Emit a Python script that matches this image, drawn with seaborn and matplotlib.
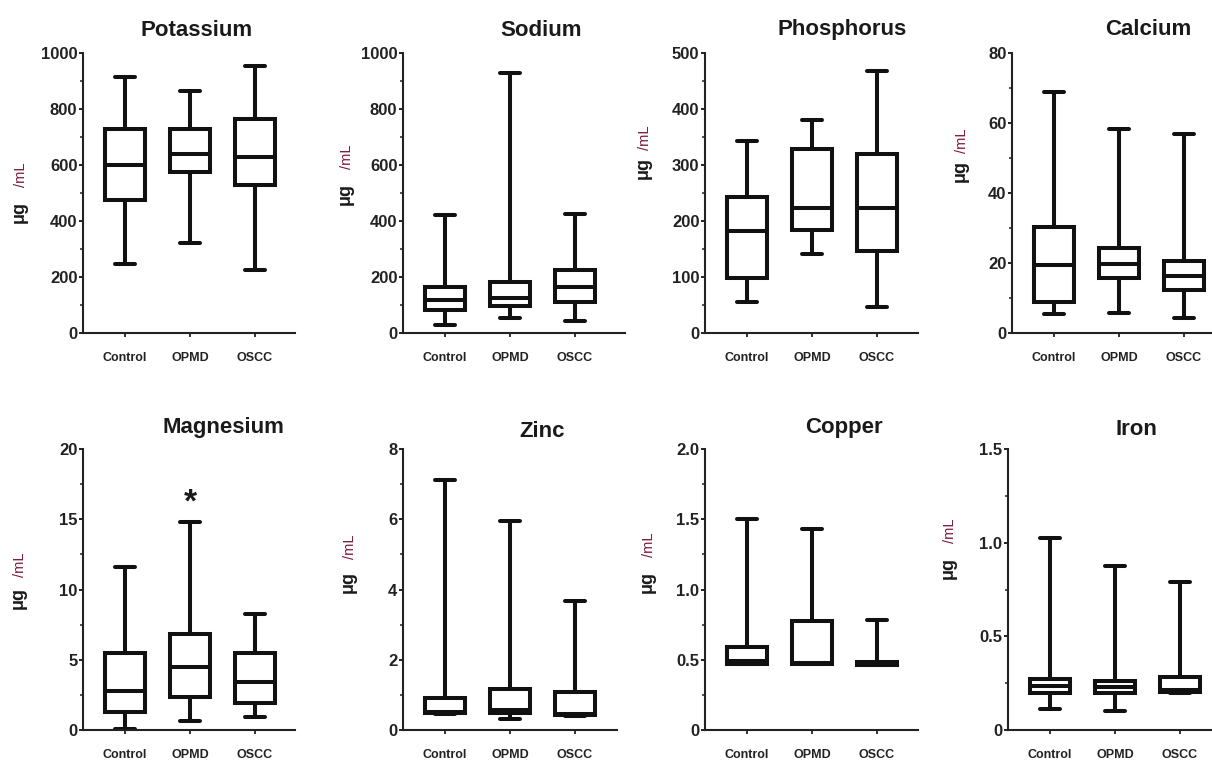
import numpy as np
import pandas as pd
import matplotlib
matplotlib.use("Agg")
import matplotlib.pyplot as plt
import seaborn as sns
from matplotlib.ticker import MultipleLocator, FuncFormatter

# ---------------- data (five-number summaries: min, Q1, median, Q3, max) ----------------
groups = ["Control", "OPMD", "OSCC"]

potassium = {"Control": [245, 475, 600, 730, 915],
             "OPMD": [320, 575, 640, 728, 865],
             "OSCC": [225, 530, 630, 765, 955]}
sodium = {"Control": [28, 82, 118, 163, 420],
          "OPMD": [52, 95, 125, 183, 928],
          "OSCC": [42, 112, 165, 225, 425]}
phosphorus = {"Control": [56, 98, 183, 242, 343],
              "OPMD": [141, 184, 223, 329, 381],
              "OSCC": [46, 147, 223, 319, 467]}
calcium = {"Control": [5.3, 8.9, 19.5, 30.2, 68.8],
           "OPMD": [5.8, 15.6, 19.7, 24.2, 58.2],
           "OSCC": [4.3, 12.2, 16.2, 20.7, 57.0]}
magnesium = {"Control": [0.05, 1.3, 2.8, 5.5, 11.6],
             "OPMD": [0.65, 2.35, 4.45, 6.8, 14.8],
             "OSCC": [0.9, 1.9, 3.4, 5.5, 8.25]}
zinc = {"Control": [0.46, 0.47, 0.52, 0.9, 7.12],
        "OPMD": [0.3, 0.47, 0.57, 1.17, 5.95],
        "OSCC": [0.41, 0.42, 0.46, 1.08, 3.67]}
copper = {"Control": [0.47, 0.47, 0.49, 0.59, 1.5],
          "OPMD": [0.47, 0.47, 0.48, 0.775, 1.43],
          "OSCC": [0.46, 0.465, 0.475, 0.485, 0.78]}
iron = {"Control": [0.112, 0.2, 0.235, 0.27, 1.025],
        "OPMD": [0.103, 0.2, 0.231, 0.263, 0.873],
        "OSCC": [0.2, 0.201, 0.214, 0.281, 0.79]}

titles = ["Potassium", "Sodium", "Phosphorus", "Calcium",
          "Magnesium", "Zinc", "Copper", "Iron"]
datasets = [potassium, sodium, phosphorus, calcium, magnesium, zinc, copper, iron]
y_max = [1000, 1000, 500, 80, 20, 8, 2.0, 1.5]
y_major = [200, 200, 100, 20, 5, 2, 0.5, 0.5]
star_group = "OPMD"     # significance mark in Magnesium panel
star_value = 16.4

# ---------------- layout (pixels) ----------------
W, H = 1212, 760
ax_left = [83, 403, 705, 1012, 83, 403, 705, 1008]
ax_top = [53, 53, 53, 53, 449, 449, 449, 449]
ax_w = [212, 222, 213, 200, 212, 214, 213, 204]
ax_h = [280, 280, 280, 280, 281, 281, 281, 281]
title_x = [197, 541, 842, 1148, 223, 542, 844, 1136]
title_base = [36, 36, 35, 35, 433, 437, 433, 435]
ug_pos = [(19, 212, 175), (345, 194, 157), (643, 168, 138), (960, 171, 141),
          (18, 598, 565), (348, 582, 547), (647, 582, 545), (948, 568, 531)]
px_per_cat = 65.0
first_tick = 42.0

sns.set_theme(style="ticks")
plt.rcParams["font.family"] = ["Liberation Sans", "DejaVu Sans"]
plt.rcParams["axes.linewidth"] = 1.5

fig = plt.figure(figsize=(W / 100, H / 100), dpi=100)
fig.patch.set_facecolor("white")


def fmt_factory(step):
    def f(v, _):
        if abs(v) < 1e-12:
            return "0"
        if step < 1:
            return f"{v:.1f}"
        return f"{int(round(v))}"
    return f


for i, (title, d) in enumerate(zip(titles, datasets)):
    rect = [ax_left[i] / W, 1 - (ax_top[i] + ax_h[i]) / H, ax_w[i] / W, ax_h[i] / H]
    ax = fig.add_axes(rect)
    df = pd.DataFrame([(g, v) for g in groups for v in d[g]], columns=["group", "value"])
    sns.boxplot(data=df, x="group", y="value", order=groups, ax=ax,
                whis=(0, 100), width=0.62, color="white", linecolor="#111111",
                linewidth=2.9, fliersize=0, saturation=1)
    left = -first_tick / px_per_cat
    ax.set_xlim(left, left + ax_w[i] / px_per_cat)
    ax.set_ylim(0, y_max[i])
    ax.yaxis.set_major_locator(MultipleLocator(y_major[i]))
    ax.yaxis.set_minor_locator(MultipleLocator(y_major[i] / 2))
    ax.yaxis.set_major_formatter(FuncFormatter(fmt_factory(y_major[i])))
    ax.set_xlabel("")
    ax.set_ylabel("")
    for s in ["top", "right"]:
        ax.spines[s].set_visible(False)
    for s in ["left", "bottom"]:
        ax.spines[s].set_linewidth(1.5)
        ax.spines[s].set_color("#222222")
    ax.tick_params(axis="y", which="major", length=3, width=1.4, pad=1,
                   labelsize=12, color="#222222")
    ax.tick_params(axis="y", which="minor", length=2.2, width=1.1, color="#222222")
    ax.tick_params(axis="x", which="major", length=3, width=1.3, pad=11,
                   labelsize=9, color="#222222")
    for lab in ax.get_yticklabels() + ax.get_xticklabels():
        lab.set_fontweight("bold")
        lab.set_color("#222222")

    fig.text(title_x[i] / W, 1 - title_base[i] / H, title, ha="center", va="baseline",
             fontsize=16, fontweight="bold", color="#1a1a1a")
    ux, uy, my = ug_pos[i]
    fig.text(ux / W, 1 - uy / H, "μg", rotation=90, ha="center", va="center",
             fontsize=13, fontweight="bold", color="#1a1a1a")
    fig.text((ux + 2) / W, 1 - my / H, "/mL", rotation=90, ha="center", va="center",
             fontsize=10.5, color="#7d1838")

    if title == "Magnesium":
        ax.text(groups.index(star_group), star_value, "*", ha="center",
                va="center_baseline", fontsize=24, fontweight="bold", color="#1a1a1a")

fig.savefig("out.png", dpi=100, facecolor="white")
